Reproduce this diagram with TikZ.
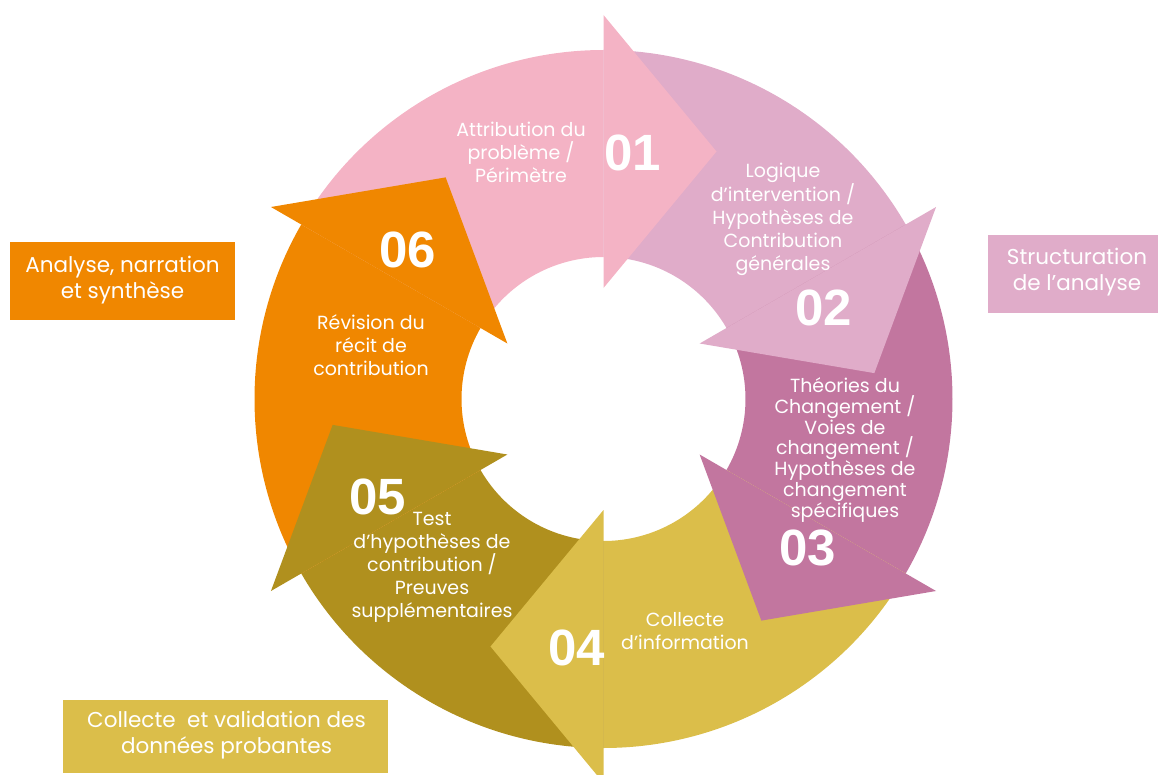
\documentclass[tikz,border=0pt]{standalone}
\usepackage{fontspec}
\setmainfont{Poppins}
\newfontfamily\numfont{Liberation Sans}
\usetikzlibrary{calc}
\definecolor{segpink}{HTML}{F4B3C5}
\definecolor{seglilac}{HTML}{E0ACC9}
\definecolor{segmauve}{HTML}{C2769F}
\definecolor{seggold}{HTML}{DBBE4A}
\definecolor{segolive}{HTML}{B0901E}
\definecolor{segorange}{HTML}{F08700}
\tikzset{
  steptext/.style={text=white, align=center, inner sep=0pt, font=\fontsize{19}{23}\selectfont},
  stepnum/.style={text=white, inner sep=0pt, font=\numfont\bfseries\fontsize{51}{51}\selectfont},
  sidebox/.style={text=white, align=center, inner sep=0pt, font=\fontsize{21.5}{26}\selectfont}
}
\begin{document}
\begin{tikzpicture}[x=1pt, y=1pt]
  \useasboundingbox (-603.5,-375) rectangle (554.5,399);
  % Ring segments
  \foreach \a/\c in {150/segpink, 90/seglilac, 30/segmauve, -30/seggold, -90/segolive, -150/segorange} {
    \fill[\c] (\a:349) arc[start angle=\a, end angle=\a-60, radius=349]
      -- (\a-60:142) arc[start angle=\a-60, end angle=\a, radius=142] -- cycle;
  }
  % Arrow heads
  \foreach \b/\c in {90/segpink, 30/seglilac, -30/segmauve, -90/seggold, -150/segolive, 150/segorange} {
    \fill[\c] (\b:111) -- (\b:384) -- ($(\b:247.5)+(\b-90:113)$) -- cycle;
  }
  % Step labels
  \node[steptext] (attribution) at (-82.5,247) {Attribution du\\problème /\\Périmètre};
  \node[steptext] (logique) at (179.5,180) {Logique\\d’intervention /\\Hypothèses de\\Contribution\\générales};
  \node[steptext, font=\fontsize{19}{20.7}\selectfont] (theories) at (241.5,-51) {Théories du\\Changement /\\Voies de\\changement /\\Hypothèses de\\changement\\spécifiques};
  \node[steptext] (collecte) at (81.5,-232) {Collecte\\d’information};
  \node[steptext] (test) at (-171.5,-168) {Test\\d’hypothèses de\\contribution /\\Preuves\\supplémentaires};
  \node[steptext] (revision) at (-232.5,54) {Révision du\\récit de\\contribution};
  % Step numbers
  \node[stepnum] (num01) at (29.5,246) {01};
  \node[stepnum] (num02) at (220.5,91) {02};
  \node[stepnum] (num03) at (204.5,-149) {03};
  \node[stepnum] (num04) at (-26.5,-249) {04};
  \node[stepnum] (num05) at (-225.5,-98) {05};
  \node[stepnum] (num06) at (-195.5,149) {06};
  % Phase boxes
  \fill[segorange] (-593.5,79) rectangle (-368.5,157);
  \node[sidebox] (analyse) at (-481,119) {Analyse, narration\\et synthèse};
  \fill[seglilac] (384.5,86) rectangle (554.5,164);
  \node[sidebox] (structuration) at (473.5,127) {Structuration\\de l’analyse};
  \fill[seggold] (-540.5,-374) rectangle (-215.5,-301);
  \node[sidebox] (validation) at (-377,-336) {Collecte\ \ et validation des\\données probantes};
\end{tikzpicture}
\end{document}
